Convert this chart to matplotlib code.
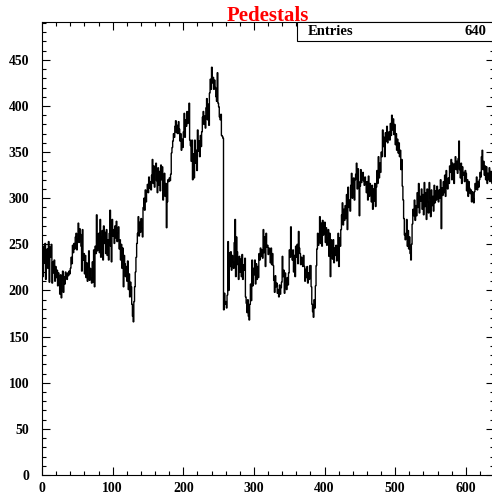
"""
Pedestals histogram (640 channels), ROOT-like look.
"""
import matplotlib
matplotlib.use("Agg")
import matplotlib.pyplot as plt
import matplotlib.ticker as mticker
import numpy as np

TITLE = "Pedestals"
N_ENTRIES = 640

# Pedestal value per channel (channels 0..639)
pedestals = [
    242, 215, 248, 230, 251, 212, 238, 245, 224, 253,
    209, 247, 236, 250, 208, 231, 219, 233, 210, 226,
    214, 222, 205, 219, 208, 196, 217, 192, 212, 221,
    198, 215, 207, 220, 217, 212, 219, 216, 221, 218,
    224, 236, 229, 249, 241, 251, 245, 258, 262, 244,
    256, 273, 252, 267, 261, 248, 221, 266, 233, 240,
    218, 238, 214, 230, 210, 226, 243, 211, 224, 213,
    208, 231, 209, 244, 204, 248, 240, 282, 243, 246,
    262, 241, 277, 236, 258, 265, 233, 270, 251, 263,
    240, 266, 238, 255, 233, 262, 287, 248, 231, 277,
    259, 266, 251, 270, 257, 275, 253, 262, 269, 245,
    255, 233, 250, 224, 246, 204, 238, 229, 215, 226,
    210, 232, 201, 218, 193, 209, 204, 185, 172, 166,
    188, 204, 220, 236, 251, 262, 280, 259, 274, 263,
    278, 268, 258, 290, 300, 287, 309, 296, 307, 315,
    306, 323, 311, 318, 309, 325, 342, 316, 335, 312,
    330, 338, 319, 306, 333, 314, 329, 308, 336, 320,
    334, 298, 318, 327, 302, 316, 268, 296, 320, 318,
    322, 319, 326, 349, 355, 362, 370, 366, 378, 384,
    371, 379, 370, 383, 375, 362, 370, 352, 364, 355,
    372, 392, 366, 385, 378, 394, 381, 389, 403, 363,
    357, 340, 363, 320, 348, 322, 363, 338, 352, 330,
    374, 351, 362, 345, 368, 356, 372, 388, 394, 380,
    389, 376, 398, 408, 385, 402, 379, 414, 429, 418,
    442, 425, 431, 418, 428, 420, 410, 405, 436, 403,
    399, 388, 385, 391, 368, 367, 365, 179, 197, 185,
    188, 181, 195, 253, 200, 241, 226, 242, 222, 238,
    231, 224, 252, 277, 215, 258, 242, 228, 212, 237,
    220, 234, 215, 239, 212, 228, 222, 235, 193, 186,
    176, 190, 172, 168, 185, 207, 189, 233, 205, 224,
    217, 233, 207, 229, 212, 226, 214, 240, 233, 246,
    237, 244, 235, 266, 241, 258, 226, 262, 247, 249,
    239, 246, 242, 230, 246, 228, 240, 227, 211, 198,
    216, 204, 208, 197, 201, 193, 206, 196, 203, 209,
    237, 215, 222, 197, 219, 211, 201, 214, 206, 219,
    244, 236, 269, 240, 233, 244, 220, 238, 215, 248,
    236, 250, 229, 264, 246, 240, 228, 236, 232, 226,
    238, 226, 210, 223, 214, 226, 208, 219, 212, 227,
    227, 204, 185, 177, 171, 190, 181, 205, 227, 245,
    262, 249, 258, 280, 251, 273, 248, 276, 260, 263,
    274, 252, 268, 249, 257, 266, 237, 262, 215, 255,
    241, 234, 255, 230, 246, 238, 249, 232, 240, 262,
    226, 257, 248, 266, 282, 295, 271, 288, 276, 292,
    278, 304, 266, 312, 290, 298, 286, 314, 327, 300,
    318, 322, 298, 320, 326, 338, 310, 332, 318, 281,
    313, 331, 317, 324, 328, 319, 314, 323, 318, 306,
    318, 298, 324, 302, 316, 305, 296, 314, 288, 310,
    297, 316, 291, 312, 330, 316, 345, 322, 338, 328,
    350, 345, 374, 356, 366, 345, 371, 362, 378, 360,
    366, 372, 363, 381, 368, 390, 374, 386, 369, 380,
    358, 370, 352, 364, 349, 360, 345, 352, 331, 342,
    313, 298, 278, 260, 255, 262, 277, 248, 265, 245,
    258, 240, 233, 250, 272, 288, 281, 298, 276, 292,
    281, 306, 290, 316, 284, 302, 297, 310, 288, 304,
    282, 317, 291, 306, 277, 310, 296, 284, 317, 300,
    280, 309, 292, 302, 286, 314, 295, 308, 298, 313,
    302, 296, 309, 300, 320, 267, 311, 303, 318, 306,
    325, 302, 330, 314, 310, 322, 316, 335, 328, 342,
    320, 338, 326, 316, 337, 345, 331, 340, 327, 343,
    362, 331, 322, 338, 316, 334, 325, 328, 318, 330,
    327, 308, 320, 302, 318, 311, 305, 309, 296, 307,
    300, 295, 307, 316, 310, 323, 309, 318, 312, 320,
    328, 323, 345, 352, 331, 340, 325, 335, 320, 334,
    316, 327, 320, 333, 318, 329, 322, 316, 331, 319,
]

FONT = "Liberation Serif"

W, H = 492, 495
fig = plt.figure(figsize=(W / 100, H / 100), dpi=100)
ax = fig.add_axes([42 / W, 20 / H, 452 / W, 453 / H])

edges = np.arange(len(pedestals) + 1)
ax.stairs(pedestals, edges, color="black", linewidth=1.0)

ax.set_xlim(0, 640)
ax.set_ylim(0, 491)

ax.xaxis.set_major_locator(mticker.MultipleLocator(100))
ax.xaxis.set_minor_locator(mticker.MultipleLocator(20))
ax.yaxis.set_major_locator(mticker.MultipleLocator(50))
ax.yaxis.set_minor_locator(mticker.MultipleLocator(10))

ax.tick_params(which="both", direction="in", top=True, right=True,
               width=0.8, colors="black")
ax.tick_params(which="major", length=6)
ax.tick_params(which="minor", length=3)
ax.tick_params(axis="x", which="major", pad=5)
ax.tick_params(axis="y", which="major", pad=9)

for lab in ax.get_xticklabels() + ax.get_yticklabels():
    lab.set_fontfamily(FONT)
    lab.set_fontweight("bold")
    lab.set_fontsize(9.9)

for sp in ax.spines.values():
    sp.set_linewidth(0.8)

# title, centred over the frame
fig.text((42 + 452 / 2) / W, 1 - 21 / H, TITLE, color="red",
         fontfamily=FONT, fontweight="bold", fontsize=15,
         ha="center", va="baseline", zorder=10)

# stats box
box = plt.Rectangle((297 / W, 1 - 41 / H), 200 / W, 19 / H,
                    transform=fig.transFigure, facecolor="white",
                    edgecolor="black", linewidth=0.8, zorder=5)
fig.patches.append(box)
fig.text(308 / W, 1 - 31.5 / H, "Entries", fontfamily=FONT,
         fontweight="bold", fontsize=10.5, ha="left", va="center", zorder=6)
fig.text(486 / W, 1 - 31.5 / H, f"{N_ENTRIES}", fontfamily=FONT,
         fontweight="bold", fontsize=10.5, ha="right", va="center", zorder=6)

fig.savefig("out.png", dpi=100)
